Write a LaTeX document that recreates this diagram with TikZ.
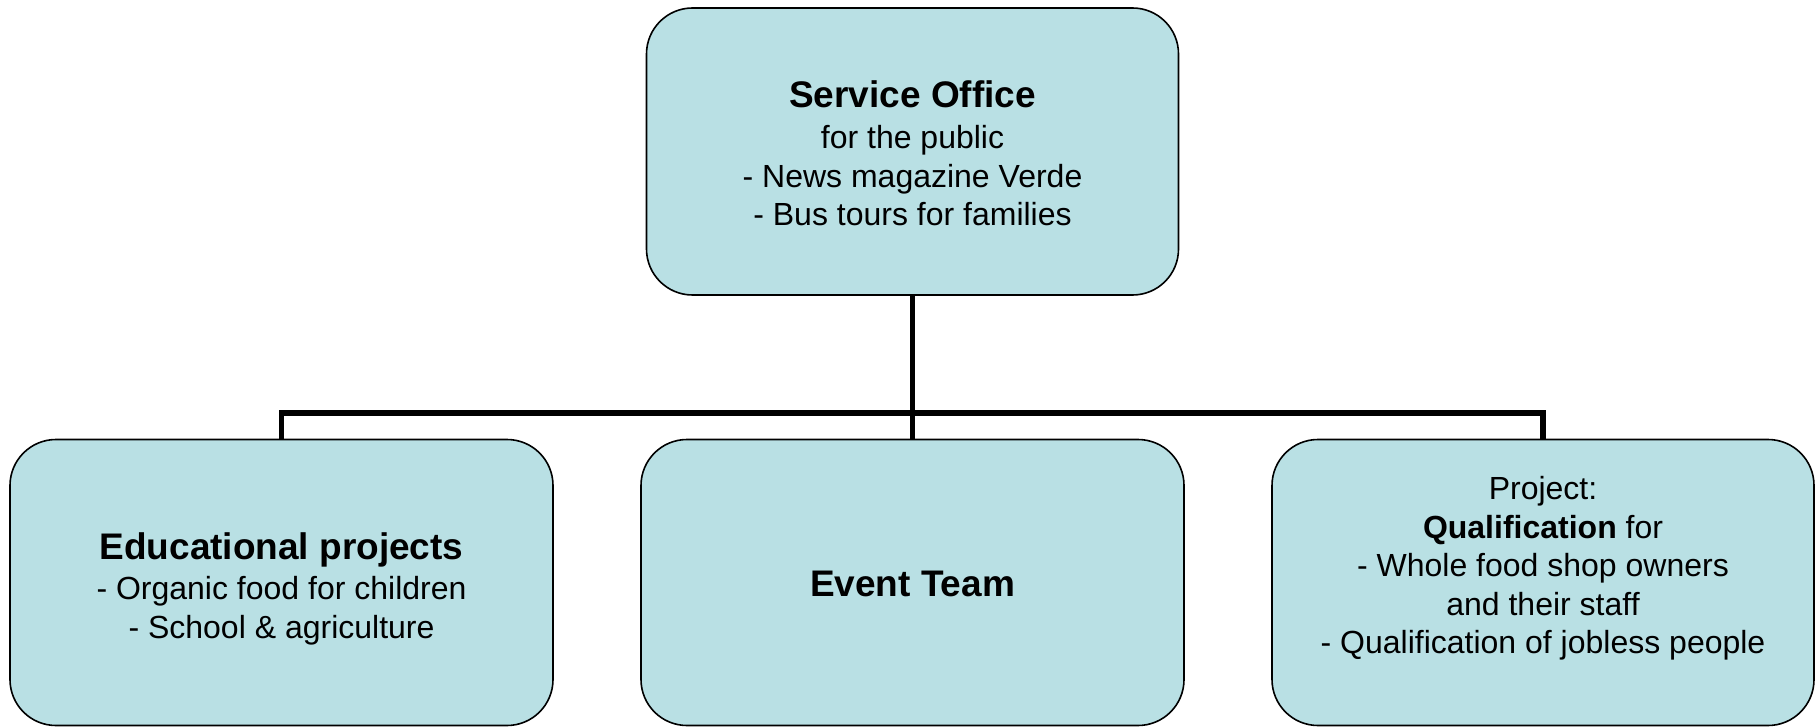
\documentclass[tikz,border=0pt]{standalone}
\usepackage{fontspec}
\setmainfont{Liberation Sans}
\definecolor{boxfill}{RGB}{185,224,228}
\tikzset{
  orgbox/.style={draw=black, line width=1.6pt, fill=boxfill, rounded corners=46pt, minimum width=#1, minimum height=286pt, inner sep=0pt},
  orgtext/.style={inner sep=0pt, align=center, font=\fontsize{32}{38.5}\selectfont},
  conn/.style={draw=black, line width=5.5pt}
}
\newcommand{\hd}[1]{{\fontsize{37}{37}\selectfont\bfseries #1}}
\begin{document}
\begin{tikzpicture}[x=1pt,y=-1pt]
\useasboundingbox (0,0) rectangle (1820,727);
\node[orgbox=532pt, minimum height=287pt] (top) at (912.5,151.5) {};
\node[orgbox=543pt] (left) at (281.5,582.5) {};
\node[orgbox=543pt] (mid) at (912.5,582.5) {};
\node[orgbox=542pt] (right) at (1543,582.5) {};
\node[orgtext, yshift=-2pt] (ttop) at (top.center) {\hd{Service Office}\\[3pt] for the public\\ - News magazine Verde\\ - Bus tours for families};
\node[orgtext, yshift=-6pt] (tleft) at (left.center) {\hd{Educational projects}\\[2pt] - Organic food for children\\ - School \& agriculture};
\node[orgtext, yshift=-1pt] (tmid) at (mid.center) {\hd{Event Team}};
\node[orgtext, yshift=14pt] (tright) at (right.center) {Project:\\ \textbf{Qualification} for\\ - Whole food shop owners\\ and their staff\\ - Qualification of jobless people};
\coordinate (j) at (912.5,413);
\draw[conn] (top.south) -- (mid.north);
\draw[conn] (left.north) |- (j) -| (right.north);
\end{tikzpicture}
\end{document}
